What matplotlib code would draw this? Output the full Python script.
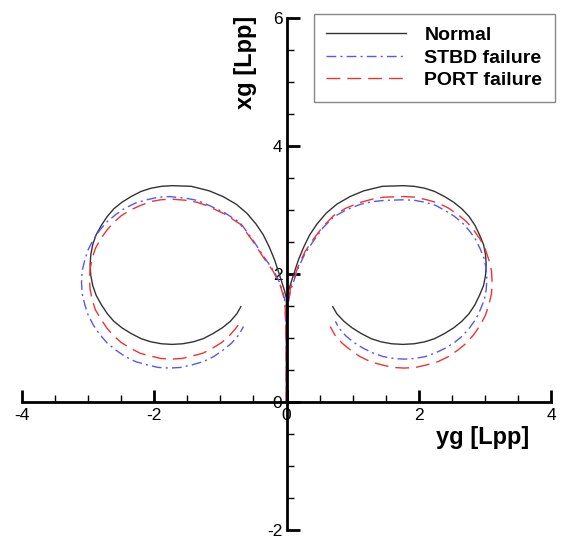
import matplotlib
matplotlib.use("Agg")
import matplotlib.pyplot as plt
from matplotlib.ticker import MultipleLocator

plt.rcParams["font.family"] = ["Liberation Sans", "DejaVu Sans"]
plt.rcParams["axes.unicode_minus"] = False

# each track: straight run + turn (yg horizontal, xg vertical)

# Normal, right turn
norm_r_y = [0.0, 0.0, 0.0, 0.03, 0.11, 0.18, 0.26, 0.35, 0.46, 0.60, 0.76, 0.96, 1.17, 1.45,
            1.76, 1.93, 2.09, 2.24, 2.39, 2.53, 2.65, 2.76, 2.85, 2.92, 2.98, 3.01, 3.02,
            3.01, 2.98, 2.92, 2.85, 2.76, 2.65, 2.53, 2.39, 2.24, 2.09, 1.93, 1.76,
            1.59, 1.43, 1.28, 1.13, 0.99, 0.87, 0.76, 0.70]
norm_r_x = [0.0, 1.0, 1.62, 1.74, 2.00, 2.22, 2.42, 2.61, 2.78, 2.95, 3.09, 3.21, 3.30, 3.37,
            3.38, 3.37, 3.34, 3.29, 3.21, 3.12, 3.02, 2.90, 2.76, 2.61, 2.46, 2.30, 2.14,
            1.98, 1.82, 1.67, 1.52, 1.38, 1.26, 1.16, 1.07, 0.99, 0.94, 0.91, 0.90,
            0.91, 0.94, 0.99, 1.07, 1.16, 1.26, 1.38, 1.49]
# Normal, left turn
norm_l_y = [0.0, 0.0, 0.0, -0.03, -0.11, -0.18, -0.26, -0.35, -0.46, -0.60, -0.76, -0.96, -1.17, -1.44,
            -1.73, -1.89, -2.05, -2.20, -2.35, -2.49, -2.61, -2.71, -2.80, -2.88, -2.93, -2.96, -2.97,
            -2.96, -2.93, -2.88, -2.80, -2.71, -2.61, -2.49, -2.35, -2.20, -2.05, -1.89, -1.73,
            -1.57, -1.41, -1.26, -1.11, -0.97, -0.85, -0.75, -0.69]
norm_l_x = [0.0, 1.0, 1.62, 1.74, 2.00, 2.22, 2.42, 2.61, 2.78, 2.95, 3.09, 3.21, 3.30, 3.37,
            3.38, 3.37, 3.34, 3.29, 3.21, 3.12, 3.02, 2.90, 2.76, 2.61, 2.46, 2.30, 2.14,
            1.98, 1.82, 1.67, 1.52, 1.38, 1.26, 1.16, 1.07, 0.99, 0.94, 0.91, 0.90,
            0.91, 0.94, 0.99, 1.07, 1.16, 1.26, 1.38, 1.49]

# STBD failure
stbd_r_y = [0.0, 0.0, 0.02, 0.06, 0.18, 0.28, 0.41, 0.55, 0.71, 0.90, 1.12, 1.30, 1.47,
            1.78, 1.94, 2.10, 2.26, 2.40, 2.54, 2.66, 2.77, 2.86, 2.93, 2.99, 3.02, 3.03,
            3.02, 2.99, 2.93, 2.86, 2.77, 2.66, 2.54, 2.40, 2.26, 2.10, 1.94, 1.78,
            1.62, 1.46, 1.30, 1.16, 1.02, 0.90, 0.79, 0.74]
stbd_r_x = [0.0, 0.8, 1.5, 1.74, 2.10, 2.32, 2.52, 2.72, 2.89, 3.00, 3.09, 3.13, 3.15,
            3.16, 3.15, 3.12, 3.07, 2.99, 2.90, 2.80, 2.67, 2.54, 2.39, 2.24, 2.08, 1.92,
            1.75, 1.59, 1.44, 1.29, 1.16, 1.03, 0.93, 0.84, 0.77, 0.71, 0.68, 0.67,
            0.68, 0.71, 0.77, 0.84, 0.93, 1.03, 1.16, 1.26]
stbd_l_y = [0.0, 0.0, -0.02, -0.03, -0.10, -0.20, -0.35, -0.52, -0.70, -0.94, -1.21, -1.35, -1.50,
            -1.77, -1.94, -2.11, -2.28, -2.44, -2.58, -2.71, -2.82, -2.92, -3.00, -3.05, -3.09, -3.10,
            -3.09, -3.05, -3.00, -2.92, -2.82, -2.71, -2.58, -2.44, -2.28, -2.11, -1.94, -1.77,
            -1.60, -1.43, -1.26, -1.10, -0.96, -0.83, -0.72, -0.65]
stbd_l_x = [0.0, 0.8, 1.5, 1.62, 1.86, 2.06, 2.28, 2.55, 2.80, 2.96, 3.09, 3.15, 3.18,
            3.21, 3.20, 3.16, 3.11, 3.03, 2.93, 2.82, 2.69, 2.54, 2.38, 2.22, 2.05, 1.87,
            1.69, 1.52, 1.36, 1.20, 1.05, 0.92, 0.81, 0.71, 0.63, 0.58, 0.54, 0.53,
            0.54, 0.58, 0.63, 0.71, 0.81, 0.92, 1.05, 1.18]

# PORT failure
port_r_y = [0.0, 0.0, 0.02, 0.06, 0.18, 0.28, 0.41, 0.55, 0.71, 0.90, 1.12, 1.30, 1.47,
            1.78, 1.95, 2.12, 2.29, 2.45, 2.59, 2.72, 2.83, 2.93, 3.01, 3.06, 3.10, 3.11,
            3.10, 3.06, 3.01, 2.93, 2.83, 2.72, 2.59, 2.45, 2.29, 2.12, 1.95, 1.78,
            1.61, 1.44, 1.27, 1.11, 0.97, 0.84, 0.73, 0.66]
port_r_x = [0.0, 0.8, 1.5, 1.78, 2.13, 2.35, 2.55, 2.74, 2.91, 3.03, 3.12, 3.17, 3.20,
            3.21, 3.20, 3.16, 3.11, 3.03, 2.93, 2.82, 2.69, 2.54, 2.38, 2.22, 2.05, 1.87,
            1.69, 1.52, 1.36, 1.20, 1.05, 0.92, 0.81, 0.71, 0.63, 0.58, 0.54, 0.53,
            0.54, 0.58, 0.63, 0.71, 0.81, 0.92, 1.05, 1.18]
port_l_y = [0.0, 0.0, -0.02, -0.03, -0.10, -0.20, -0.35, -0.52, -0.70, -0.94, -1.21, -1.35, -1.50,
            -1.74, -1.90, -2.06, -2.21, -2.36, -2.50, -2.62, -2.72, -2.81, -2.89, -2.94, -2.97, -2.98,
            -2.97, -2.94, -2.89, -2.81, -2.72, -2.62, -2.50, -2.36, -2.21, -2.06, -1.90, -1.74,
            -1.58, -1.42, -1.27, -1.12, -0.98, -0.86, -0.76, -0.70]
port_l_x = [0.0, 0.8, 1.5, 1.60, 1.84, 2.04, 2.26, 2.53, 2.78, 2.94, 3.07, 3.12, 3.15,
            3.17, 3.16, 3.13, 3.07, 3.00, 2.91, 2.80, 2.68, 2.55, 2.40, 2.24, 2.08, 1.92,
            1.76, 1.60, 1.44, 1.30, 1.16, 1.04, 0.93, 0.84, 0.76, 0.72, 0.68, 0.67,
            0.68, 0.72, 0.76, 0.84, 0.93, 1.04, 1.16, 1.25]

fig = plt.figure(figsize=(5.63, 5.4), dpi=100)
ax = fig.add_axes([22 / 563, 10 / 540, 529 / 563, 512 / 540])

c_norm = "#333333"
c_stbd = "#5555ff"
c_port = "#ee3333"

ax.plot(norm_r_y, norm_r_x, "-", color=c_norm, lw=1.0, label="Normal")
ax.plot(norm_l_y, norm_l_x, "-", color=c_norm, lw=1.0)
ax.plot(stbd_r_y, stbd_r_x, color=c_stbd, lw=1.0, dashes=[7, 3, 1.5, 3], label="STBD failure")
ax.plot(stbd_l_y, stbd_l_x, color=c_stbd, lw=1.0, dashes=[7, 3, 1.5, 3])
ax.plot(port_r_y, port_r_x, color=c_port, lw=1.0, dashes=[10, 5], label="PORT failure")
ax.plot(port_l_y, port_l_x, color=c_port, lw=1.0, dashes=[10, 5])

ax.set_xlim(-4, 4)
ax.set_ylim(-2, 6)

ax.spines["left"].set_position(("data", 0))
ax.spines["bottom"].set_position(("data", 0))
ax.spines["right"].set_visible(False)
ax.spines["top"].set_visible(False)
for s in ["left", "bottom"]:
    ax.spines[s].set_linewidth(2.0)

ax.xaxis.set_major_locator(MultipleLocator(2))
ax.xaxis.set_minor_locator(MultipleLocator(0.5))
ax.yaxis.set_major_locator(MultipleLocator(2))
ax.yaxis.set_minor_locator(MultipleLocator(0.5))
ax.tick_params(which="major", direction="in", length=9, width=2, labelsize=12.5, pad=3)
ax.tick_params(which="minor", direction="in", length=5, width=1)
ax.tick_params(axis="x", which="major", pad=4)

ax.text(3.67, -0.37, "yg [Lpp]", fontsize=17, fontweight="bold", ha="right", va="top")
ax.text(-0.62, 6.03, "xg [Lpp]", fontsize=17, fontweight="bold", rotation=90, ha="center", va="top")

leg = ax.legend(loc="upper right", bbox_to_anchor=(555 / 563, 1 - 14 / 540), bbox_transform=fig.transFigure,
                prop={"weight": "bold", "size": 14}, handlelength=4.1, fancybox=False, framealpha=1,
                edgecolor="#888888", borderpad=0.65, labelspacing=0.25, handletextpad=0.95,
                borderaxespad=0)
leg.get_frame().set_linewidth(1.0)

fig.savefig("out.png", dpi=100)
